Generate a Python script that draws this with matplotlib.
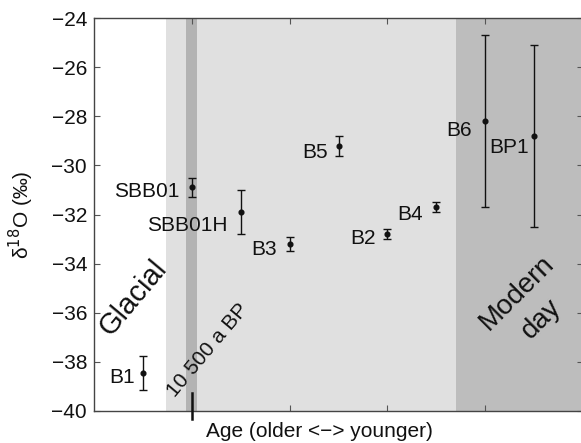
import matplotlib
matplotlib.use("Agg")
import matplotlib.pyplot as plt

plt.rcParams['font.family'] = ['Liberation Sans', 'DejaVu Sans']

labels = ["B1", "SBB01", "SBB01H", "B3", "B5", "B2", "B4", "B6", "BP1"]
xpos = [0.5, 1.0, 1.5, 2.0, 2.5, 3.0, 3.5, 4.0, 4.5]
d18o = [-38.45, -30.9, -31.9, -33.2, -29.2, -32.8, -31.7, -28.2, -28.8]
err = [0.7, 0.4, 0.9, 0.3, 0.4, 0.2, 0.2, 3.5, 3.7]
# label offsets (points)
label_dx = [-5.8, -8.6, -9.4, -9.4, -7.9, -8.6, -10, -9.4, -18]
label_dy = [-3.4, -2.9, -9.4, -4.3, -5.0, -3.0, -5.0, -6.5, -8.6]

yticks = [-40, -38, -36, -34, -32, -30, -28, -26, -24]
ytick_labels = ["\u221240", "\u221238", "\u221236", "\u221234", "\u221232",
                "\u221230", "\u221228", "\u221226", "\u221224"]
xticks = [1, 2, 3, 4]

fig = plt.figure(figsize=(5.81, 4.43), dpi=100)
ax = fig.add_axes([94/581, 1-411/443, 489/581, 393/443])
ax.set_xlim(0, 5)
ax.set_ylim(-40, -24)

ax.axvspan(0.736, 3.70, color="#e0e0e0", lw=0, zorder=0)
ax.axvspan(0.94, 1.05, color="#b3b3b3", lw=0, zorder=0.5)
ax.axvspan(3.70, 5.0, color="#bdbdbd", lw=0, zorder=0)

ax.errorbar(xpos, d18o, yerr=err, fmt='o', color='#111111', ms=3.4,
            elinewidth=1.0, capsize=2.6, capthick=1.0, zorder=3)

for i, lab in enumerate(labels):
    ha = 'center' if lab == "BP1" else 'right'
    ax.annotate(lab, (xpos[i], d18o[i]), xytext=(label_dx[i], label_dy[i]),
                textcoords='offset points', ha=ha, va='center',
                fontsize=15, color='#111111')

ax.text(0.404, -35.38, "Glacial", rotation=50, fontsize=21, ha='center', va='center',
        color='#111111', rotation_mode='anchor')
ax.text(1.16, -37.52, "10 500 a BP", rotation=50, fontsize=15, ha='center', va='center',
        color='#111111', rotation_mode='anchor')
ax.text(4.45, -35.72, "Modern\nday", rotation=45, fontsize=20, ha='center', va='center',
        color='#111111', linespacing=1.5, rotation_mode='anchor')

# 10 500 a BP marker at x=1 crossing bottom axis
ax.plot([1, 1], [-0.02, 0.045], transform=ax.get_xaxis_transform(), color='#111111',
        lw=1.8, clip_on=False, zorder=5)

ax.set_yticks(yticks)
ax.set_yticklabels(ytick_labels)
ax.set_xticks(xticks)
ax.set_xticklabels([])
ax.tick_params(direction='in', length=4, width=0.8, colors='#555555', top=True, right=True,
               labelsize=15, labelcolor='#111111', pad=5)
for s in ax.spines.values():
    s.set_color('#444444')
    s.set_linewidth(1.0)

ax.set_ylabel("\u03b4$^{18}$O (\u2030)", fontsize=15, color='#111111')
ax.yaxis.set_label_coords(-0.119, 0.5)
ax.set_xlabel("Age (older <\u2212> younger)", fontsize=15, color='#111111')
ax.xaxis.set_label_coords(0.462, -0.028)

fig.savefig("out.png", dpi=100)
